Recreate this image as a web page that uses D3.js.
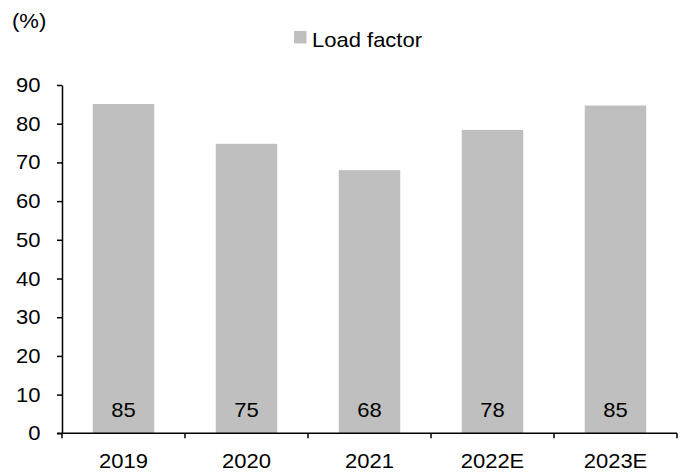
<!DOCTYPE html>
<html><head><meta charset="utf-8">
<script src="https://cdn.jsdelivr.net/npm/d3@7"></script>
<style>body{margin:0;background:#fff}svg{display:block}text{font-family:"Liberation Sans",Arial,sans-serif;fill:#000}</style>
</head><body>
<script>
const categories = ["2019","2020","2021","2022E","2023E"];
const loadFactor = [85.1, 74.8, 68.0, 78.4, 84.7];
const valueLabels = ["85","75","68","78","85"];
const yTicks = [0,10,20,30,40,50,60,70,80,90];
const seriesName = "Load factor";

const W = 683, H = 473;
const SX = 1.1;   // horizontal text stretch seen in the reference
const m = {left:62, right:6, top:85, bottom:39.7};
const svg = d3.select("body").append("svg").attr("width",W).attr("height",H);
const x = d3.scaleBand().domain(categories).range([m.left, W-m.right]).paddingInner(0.5).paddingOuter(0.25);
const y = d3.scaleLinear().domain([0,90]).range([H-m.bottom, m.top]);

function label(g, tx, ty, txt, anchor, size){
  return g.append("text").attr("transform",`translate(${tx},${ty}) scale(${SX},1)`)
    .attr("text-anchor",anchor||"start").attr("font-size",size||20).text(txt);
}

svg.append("g").selectAll("rect").data(loadFactor).join("rect")
  .attr("x",(d,i)=>x(categories[i])).attr("width",x.bandwidth())
  .attr("y",d=>y(d)).attr("height",d=>y(0)-y(d)).attr("fill","#bfbfbf");

const vl = svg.append("g");
valueLabels.forEach((t,i)=>label(vl, x(categories[i])+x.bandwidth()/2, y(0)-16, t, "middle"));

// y axis
const ya = svg.append("g").attr("transform",`translate(${m.left},0)`)
  .call(d3.axisLeft(y).tickValues(yTicks).tickSize(5).tickSizeOuter(0).tickFormat(""));
ya.select(".domain").attr("stroke","#000").attr("stroke-width",1.5);
ya.selectAll(".tick line").attr("stroke","#000").attr("stroke-width",1.5);
const yl = svg.append("g");
yTicks.forEach(v=>label(yl, m.left-21.5, y(v)+7, String(v), "end"));

// x axis with category boundary ticks
const xa = svg.append("g").attr("transform",`translate(0,${y(0)})`);
xa.append("line").attr("x1",m.left-5).attr("x2",W-m.right).attr("stroke","#000").attr("stroke-width",1.5);
const bounds = d3.range(categories.length+1).map(i=>m.left + i*(W-m.left-m.right)/categories.length);
xa.selectAll("line.t").data(bounds).join("line").attr("class","t")
  .attr("x1",d=>d).attr("x2",d=>d).attr("y1",0).attr("y2",5).attr("stroke","#000").attr("stroke-width",1.5);
categories.forEach(c=>label(xa, x(c)+x.bandwidth()/2, 34.5, c, "middle"));

// unit label
label(svg, 12, 28, "(%)", "start");

// legend
svg.append("rect").attr("x",294).attr("y",31).attr("width",12.5).attr("height",12.5).attr("fill","#bfbfbf");
label(svg, 312, 46.5, seriesName, "start", 20);
</script>
</body></html>
